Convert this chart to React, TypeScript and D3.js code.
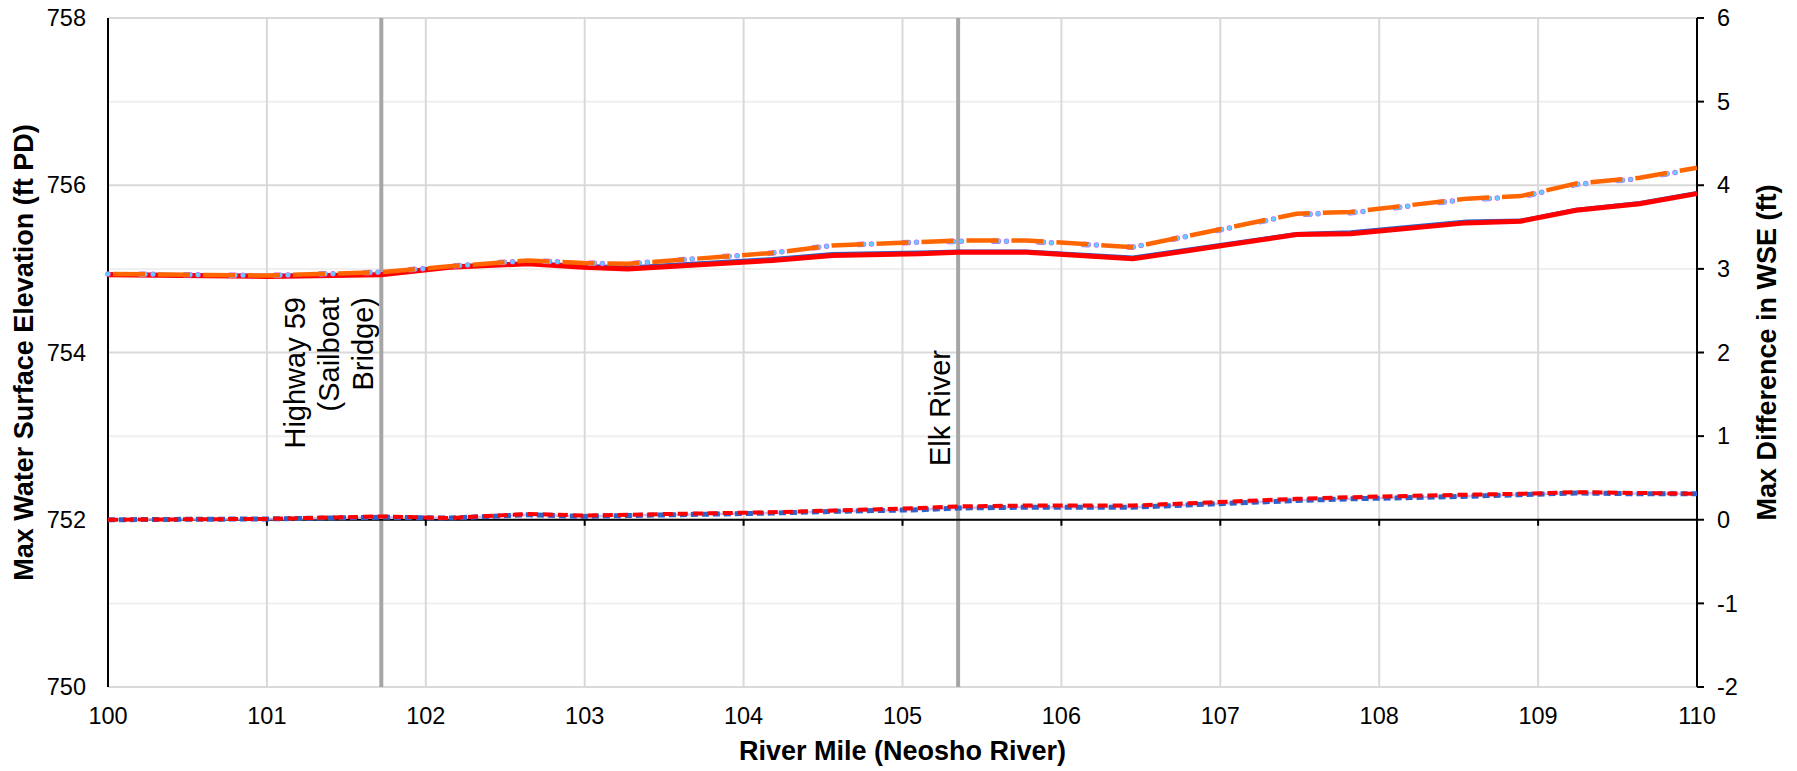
import React from "react";
import * as d3 from "d3";

// ---- data ----
const riverMile = [100.0, 101.0, 101.72, 102.15, 102.64, 102.99, 103.27, 104.18, 104.56, 105.11, 105.35, 105.78, 106.45, 107.48, 107.82, 108.55, 108.89, 109.24, 109.64, 110.0];

// left axis series (Max WSE, ft PD)
const wseBlueSolid = [754.94, 754.92, 754.94, 755.03, 755.07, 755.04, 755.02, 755.12, 755.18, 755.2, 755.21, 755.21, 755.14, 755.42, 755.44, 755.57, 755.58, 755.71, 755.79, 755.91];
const wseRedSolid = [754.93, 754.91, 754.93, 755.02, 755.06, 755.02, 755.0, 755.1, 755.16, 755.18, 755.2, 755.2, 755.12, 755.41, 755.42, 755.55, 755.57, 755.7, 755.78, 755.9];
const wseLightBlueDot = [754.94, 754.92, 754.96, 755.03, 755.1, 755.07, 755.06, 755.19, 755.28, 755.32, 755.33, 755.33, 755.26, 755.65, 755.67, 755.83, 755.86, 756.01, 756.08, 756.2];
const wseOrangeDash = [754.94, 754.92, 754.96, 755.03, 755.1, 755.07, 755.06, 755.19, 755.28, 755.32, 755.34, 755.34, 755.26, 755.66, 755.68, 755.84, 755.87, 756.02, 756.09, 756.21];

// right axis series (Max difference in WSE, ft)
const diffBlue = [0.0, 0.01, 0.03, 0.02, 0.06, 0.04, 0.05, 0.08, 0.1, 0.12, 0.14, 0.15, 0.15, 0.23, 0.25, 0.28, 0.3, 0.32, 0.31, 0.31];
const diffRed = [0.0, 0.01, 0.04, 0.02, 0.07, 0.05, 0.06, 0.09, 0.11, 0.14, 0.16, 0.17, 0.17, 0.25, 0.27, 0.3, 0.31, 0.33, 0.32, 0.31];

const xTicks = [100, 101, 102, 103, 104, 105, 106, 107, 108, 109, 110];
const leftTicks = [750, 752, 754, 756, 758];
const leftMinor = [751, 753, 755, 757];
const rightTicks = [-2, -1, 0, 1, 2, 3, 4, 5, 6];

const markers = [
  { mile: 101.72, lines: ["Highway 59", "(Sailboat", "Bridge)"] },
  { mile: 105.35, lines: ["Elk River"] },
];

const W = 1797;
const H = 771;
const FONT = "'Liberation Sans', Arial, sans-serif";

export default function App() {
  const x = d3.scaleLinear().domain([100, 110]).range([108, 1697]);
  const yL = d3.scaleLinear().domain([750, 758]).range([687, 18]);
  const yR = d3.scaleLinear().domain([-2, 6]).range([687, 18]);

  const lineL = (vals: number[]) =>
    d3.line<number>().x((_, i) => x(riverMile[i])).y((v) => yL(v))(vals) || "";
  const lineR = (vals: number[]) =>
    d3.line<number>().x((_, i) => x(riverMile[i])).y((v) => yR(v))(vals) || "";

  const [x0, x1] = x.range();
  const [yb, yt] = yL.range();

  return (
    <svg width={W} height={H} style={{ position: "absolute", left: 0, top: 0, display: "block", background: "#fff" }} fontFamily={FONT}>
      {/* minor horizontal gridlines */}
      {leftMinor.map((v) => (
        <line key={"mn" + v} x1={x0} x2={x1} y1={yL(v)} y2={yL(v)} stroke="#efefef" strokeWidth={2} />
      ))}
      {/* major horizontal gridlines */}
      {leftTicks.map((v) => (
        <line key={"mj" + v} x1={x0} x2={x1} y1={yL(v)} y2={yL(v)} stroke="#d9d9d9" strokeWidth={2} />
      ))}
      {/* vertical gridlines */}
      {xTicks.slice(1, -1).map((v) => (
        <line key={"vg" + v} x1={x(v)} x2={x(v)} y1={yt} y2={yb} stroke="#d9d9d9" strokeWidth={2} />
      ))}

      {/* marker lines */}
      {markers.map((m) => (
        <line key={"mk" + m.mile} x1={x(m.mile)} x2={x(m.mile)} y1={yt} y2={yb} stroke="#a6a6a6" strokeWidth={4} />
      ))}

      {/* x axis at zero of secondary axis */}
      <line x1={x0} x2={x1} y1={yR(0)} y2={yR(0)} stroke="#000" strokeWidth={2} />
      {xTicks.map((v) => (
        <line key={"xt" + v} x1={x(v)} x2={x(v)} y1={yR(0)} y2={yR(0) + 6} stroke="#000" strokeWidth={2} />
      ))}

      {/* left axis */}
      <line x1={x0} x2={x0} y1={yt} y2={yb} stroke="#000" strokeWidth={2} />
      {/* right axis */}
      <line x1={x1} x2={x1} y1={yt} y2={yb} stroke="#000" strokeWidth={2} />
      {rightTicks.map((v) => (
        <line key={"rt" + v} x1={x1} x2={x1 + 7} y1={yR(v)} y2={yR(v)} stroke="#000" strokeWidth={2} />
      ))}

      {/* difference series (right axis) */}
      <path d={lineR(diffBlue)} fill="none" stroke="#c9a8f0" strokeWidth={2.5} opacity={0.8} />
      <path d={lineR(diffBlue)} fill="none" stroke="#2e62c9" strokeWidth={5} strokeDasharray="7 4" />
      <path d={lineR(diffRed)} fill="none" stroke="#ff0000" strokeWidth={4} strokeDasharray="10 5" />

      {/* WSE series (left axis) */}
      <path d={lineL(wseBlueSolid)} fill="none" stroke="#2f5fc4" strokeWidth={3.5} />
      <path d={lineL(wseRedSolid)} fill="none" stroke="#ff0000" strokeWidth={5} />
      <path d={lineL(wseLightBlueDot)} fill="none" stroke="#cc55ee" strokeWidth={5.5} strokeDasharray="0 32 5 8" strokeLinecap="round" />
      <path d={lineL(wseLightBlueDot)} fill="none" stroke="#66ccff" strokeWidth={4.5} strokeDasharray="0 32 5 8" strokeLinecap="round" />
      <path d={lineL(wseOrangeDash)} fill="none" stroke="#ff6600" strokeWidth={4.5} strokeDasharray="32 13" strokeDashoffset={-5} />

      {/* marker labels */}
      {markers.map((m) =>
        m.lines.map((t, i) => {
          const n = m.lines.length;
          const cx = x(m.mile) - 18 - (n - 1 - i) * 34;
          const yEnd = n > 1 ? 297 : 350;
          return (
            <text key={m.mile + t} transform={`translate(${cx},${yEnd}) rotate(-90)`} textAnchor="end" dy="0.35em" fontSize={29} fill="#000">
              {t}
            </text>
          );
        })
      )}

      {/* left tick labels */}
      {leftTicks.map((v) => (
        <text key={"lt" + v} x={86} y={yL(v)} dy="0.35em" textAnchor="end" fontSize={23.5} fill="#000">
          {v}
        </text>
      ))}
      {/* right tick labels */}
      {rightTicks.map((v) => (
        <text key={"rl" + v} x={1717} y={yR(v)} dy="0.35em" textAnchor="start" fontSize={23.5} fill="#000">
          {v}
        </text>
      ))}
      {/* x tick labels */}
      {xTicks.map((v) => (
        <text key={"xl" + v} x={x(v)} y={716} dy="0.35em" textAnchor="middle" fontSize={23.5} fill="#000">
          {v}
        </text>
      ))}

      {/* axis titles */}
      <text x={(x0 + x1) / 2} y={760} textAnchor="middle" fontSize={27} fontWeight="bold" fill="#000">
        River Mile (Neosho River)
      </text>
      <text transform={`translate(24,${(yt + yb) / 2}) rotate(-90)`} textAnchor="middle" dy="0.35em" fontSize={27} fontWeight="bold" fill="#000">
        Max Water Surface Elevation (ft PD)
      </text>
      <text transform={`translate(1767,${(yt + yb) / 2}) rotate(-90)`} textAnchor="middle" dy="0.35em" fontSize={27} fontWeight="bold" fill="#000">
        Max Difference in WSE (ft)
      </text>
    </svg>
  );
}
